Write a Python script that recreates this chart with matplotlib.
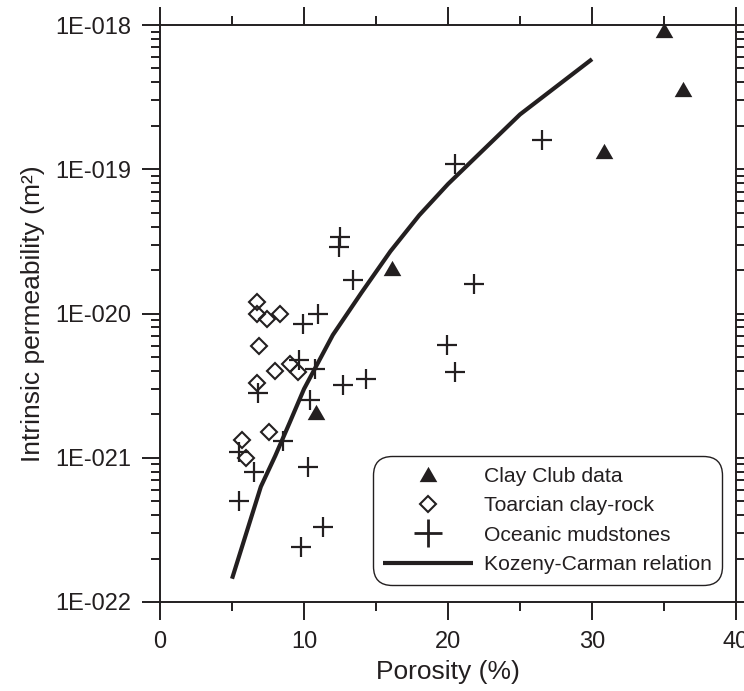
import matplotlib
matplotlib.use("Agg")
import matplotlib.pyplot as plt
from matplotlib.lines import Line2D
from matplotlib.ticker import LogLocator, FixedLocator, NullFormatter

plt.rcParams['font.family'] = ['Liberation Sans', 'DejaVu Sans']

INK = "#231f20"

# Clay Club data
clay_phi = [35.0, 36.3, 30.8, 16.1, 10.8]
clay_k = [9.2e-19, 3.6e-19, 1.33e-19, 2.06e-20, 2.06e-21]

# Toarcian clay-rock
toar_phi = [6.7, 6.7, 7.45, 8.3, 6.9, 8.0, 9.0, 9.55, 6.7, 7.6, 5.7, 6.0]
toar_k = [1.21e-20, 1.0e-20, 9.2e-21, 1.0e-20, 6.0e-21, 4.0e-21,
          4.5e-21, 3.9e-21, 3.3e-21, 1.5e-21, 1.32e-21, 9.9e-22]

# Oceanic mudstones
ocean_phi = [13.4, 11.0, 9.9, 9.65, 10.75, 12.7, 14.3, 6.8, 10.4, 8.55,
             5.5, 10.3, 6.5, 19.9, 20.45, 21.8, 12.5, 12.4, 20.5, 26.5,
             5.45, 11.3, 9.8]
ocean_k = [1.7e-20, 1.0e-20, 8.45e-21, 4.75e-21, 4.1e-21, 3.2e-21, 3.5e-21,
           2.8e-21, 2.5e-21, 1.3e-21, 1.1e-21, 8.6e-22, 8.0e-22, 6.05e-21,
           3.9e-21, 1.6e-20, 3.4e-20, 2.9e-20, 1.09e-19, 1.6e-19,
           5.0e-22, 3.3e-22, 2.4e-22]

# Kozeny-Carman relation
kc_phi = [5, 7, 8, 9, 10, 12, 14, 16, 18, 20, 25, 30]
kc_k = [1.45e-22, 6.3e-22, 1.03e-21, 1.75e-21, 3.0e-21, 7.1e-21,
        1.4e-20, 2.7e-20, 4.8e-20, 7.9e-20, 2.4e-19, 5.8e-19]

x_ticks = [0, 10, 20, 30, 40]
y_ticks = [1e-22, 1e-21, 1e-20, 1e-19, 1e-18]
y_ticklabels = ["1E-022", "1E-021", "1E-020", "1E-019", "1E-018"]

tri = [(-1, -0.866), (1, -0.866), (0, 0.866), (-1, -0.866)]

fig = plt.figure(figsize=(7.44, 6.91), dpi=100)
ax = fig.add_axes([0.2151, 0.1288, 0.7742, 0.835])

ax.plot(kc_phi, kc_k, color=INK, lw=3.0, solid_capstyle="butt", zorder=2)
ax.plot(clay_phi, clay_k, linestyle="none", marker=tri, ms=12.7,
        mfc=INK, mec=INK, mew=0, zorder=3, clip_on=False)
ax.plot(toar_phi, toar_k, linestyle="none", marker="D", ms=8.2,
        mfc="none", mec=INK, mew=1.5, zorder=3)
ax.plot(ocean_phi, ocean_k, linestyle="none", marker="+", ms=14.4,
        mec=INK, mew=1.6, zorder=3)

ax.set_yscale("log")
ax.set_xlim(0, 40)
ax.set_ylim(1e-22, 1e-18)

ax.xaxis.set_major_locator(FixedLocator(x_ticks))
ax.xaxis.set_minor_locator(FixedLocator([5, 15, 25, 35]))
ax.set_xticklabels([str(t) for t in x_ticks])
ax.yaxis.set_major_locator(FixedLocator(y_ticks))
ax.yaxis.set_minor_locator(LogLocator(base=10, subs=range(2, 10), numticks=20))
ax.yaxis.set_minor_formatter(NullFormatter())
ax.set_yticklabels(y_ticklabels)

for side in ax.spines.values():
    side.set_linewidth(1.4)
    side.set_color(INK)

ax.tick_params(which="both", direction="out", top=True, right=True,
               color=INK, width=1.4, labelcolor=INK)
ax.tick_params(which="major", length=13, labelsize=17, pad=8)
ax.tick_params(which="minor", length=6.5)

ax.set_xlabel("Porosity (%)", fontsize=19, color=INK, labelpad=5)
ax.set_ylabel("Intrinsic permeability (m²)", fontsize=19, color=INK, labelpad=7)

handles = [
    Line2D([], [], linestyle="none", marker=tri, ms=12.7, mfc=INK, mec=INK, mew=0),
    Line2D([], [], linestyle="none", marker="D", ms=8.2, mfc="none", mec=INK, mew=1.5),
    Line2D([], [], linestyle="none", marker="+", ms=19.5, mec=INK, mew=2.0),
    Line2D([], [], color=INK, lw=3.0, solid_capstyle="butt"),
]
labels = ["Clay Club data", "Toarcian clay-rock", "Oceanic mudstones",
          "Kozeny-Carman relation"]
leg = ax.legend(handles, labels, loc="lower right", bbox_to_anchor=(0.9757, 0.0295),
                borderaxespad=0, fontsize=15.2, handlelength=4.27, handletextpad=0.48,
                borderpad=0.5, labelspacing=0.5, fancybox=True, framealpha=1,
                edgecolor=INK)
leg.get_frame().set_boxstyle("round,pad=0,rounding_size=0.9")
leg.get_frame().set_linewidth(1.0)
for t in leg.get_texts():
    t.set_color(INK)

fig.savefig("out.png", dpi=100)
